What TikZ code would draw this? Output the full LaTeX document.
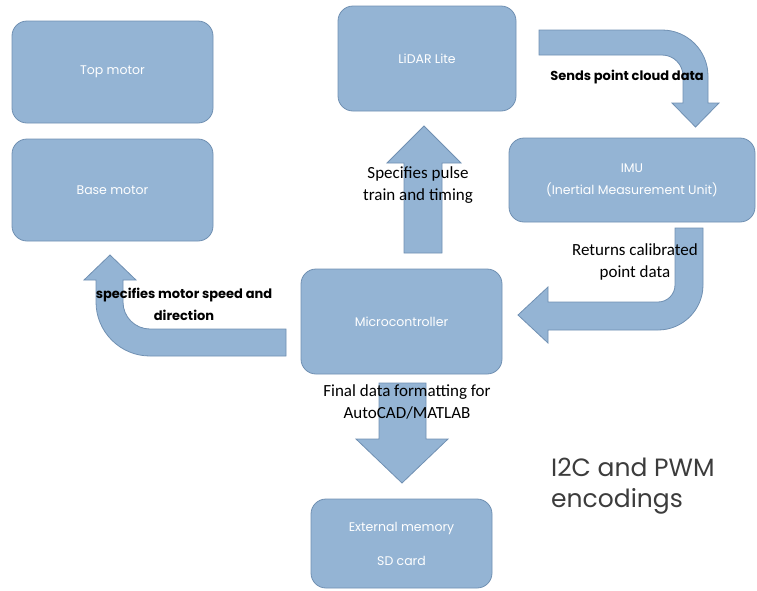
\documentclass[tikz,border=0pt]{standalone}
\usepackage{fontspec}
\setmainfont{Carlito}
\newfontfamily\twcen{Poppins}
\definecolor{boxfill}{HTML}{94B4D4}
\definecolor{boxline}{HTML}{7090B2}
\definecolor{bigtext}{HTML}{3C3C3C}
\begin{document}
\begin{tikzpicture}[x=1pt,y=-1pt,
  blk/.style={draw=boxline, fill=boxfill, line width=0.8pt, rounded corners=15pt,
    text=white, font=\twcen\fontsize{12.5}{22}\selectfont, align=center, inner sep=0pt},
  barrow/.style={draw=boxline, fill=boxfill, line width=0.8pt},
  twlbl/.style={font=\twcen\fontsize{13}{22}\selectfont\bfseries, text=black, align=center},
  cblbl/.style={font=\fontsize{17}{22}\selectfont, text=black, align=center}]
\useasboundingbox (0,0) rectangle (757,590);

% boxes
\node[blk, minimum width=201pt, minimum height=102pt] (top) at (112.5,72) {Top motor};
\node[blk, minimum width=201pt, minimum height=102pt] (base) at (112.5,190) {Base motor};
\node[blk, minimum width=178pt, minimum height=105pt] (lidar) at (427,58.5) {LiDAR Lite};
\node[blk, minimum width=246pt, minimum height=84pt] (imu) at (632,180) {IMU\\(Inertial Measurement Unit)};
\node[blk, minimum width=201pt, minimum height=105pt] (micro) at (401.5,321.5) {Microcontroller};
\node[blk, minimum width=181pt, minimum height=89pt, font=\twcen\fontsize{12.5}{34}\selectfont] (mem) at (401.5,543.5) {External memory\\SD card};

% block arrows
\draw[barrow] (404,253) -- (404,163) -- (387,163) -- (424,126) -- (461,163) -- (442,163) -- (442,253) -- cycle;
\draw[barrow] (379,383) -- (426,383) -- (426,439) -- (448,439) -- (402,483) -- (356,439) -- (379,439) -- cycle;
\draw[barrow] (539,30) -- (662,30) .. controls (687.4,30) and (708,50.6) .. (708,76) -- (708,103) -- (719,103) -- (695.5,127) -- (672,103) -- (683,103) -- (683,76) .. controls (683,64.4) and (673.6,55) .. (662,55) -- (539,55) -- cycle;
\draw[barrow] (675,228) -- (703,228) -- (703,285) .. controls (703,309.8) and (682.8,330) .. (658,330) -- (548,330) -- (548,343) -- (518,315) -- (548,287) -- (548,302) -- (658,302) .. controls (667.4,302) and (675,294.4) .. (675,285) -- cycle;
\draw[barrow] (286,329) -- (150,329) .. controls (135.1,329) and (123,316.9) .. (123,302) -- (123,280) -- (136,280) -- (110,255) -- (84,280) -- (96,280) -- (96,302) .. controls (96,331.8) and (120.2,356) .. (150,356) -- (286,356) -- cycle;

% labels
\node[twlbl] (lsends) at (627,77) {Sends point cloud data};
\node[cblbl] (lpulse) at (418,185) {Specifies pulse\\train and timing};
\node[cblbl] (lret) at (635,261.5) {Returns calibrated\\point data};
\node[twlbl] (lmotor) at (184,304) {specifies motor speed and\\direction};
\node[cblbl] (lfinal) at (407,402) {Final data formatting for\\AutoCAD/MATLAB};
\node[font=\twcen\fontsize{25}{31}\selectfont, text=bigtext, align=left, anchor=base west, inner sep=0pt] (enc) at (551,507) {I2C and PWM\\encodings};
\end{tikzpicture}
\end{document}
